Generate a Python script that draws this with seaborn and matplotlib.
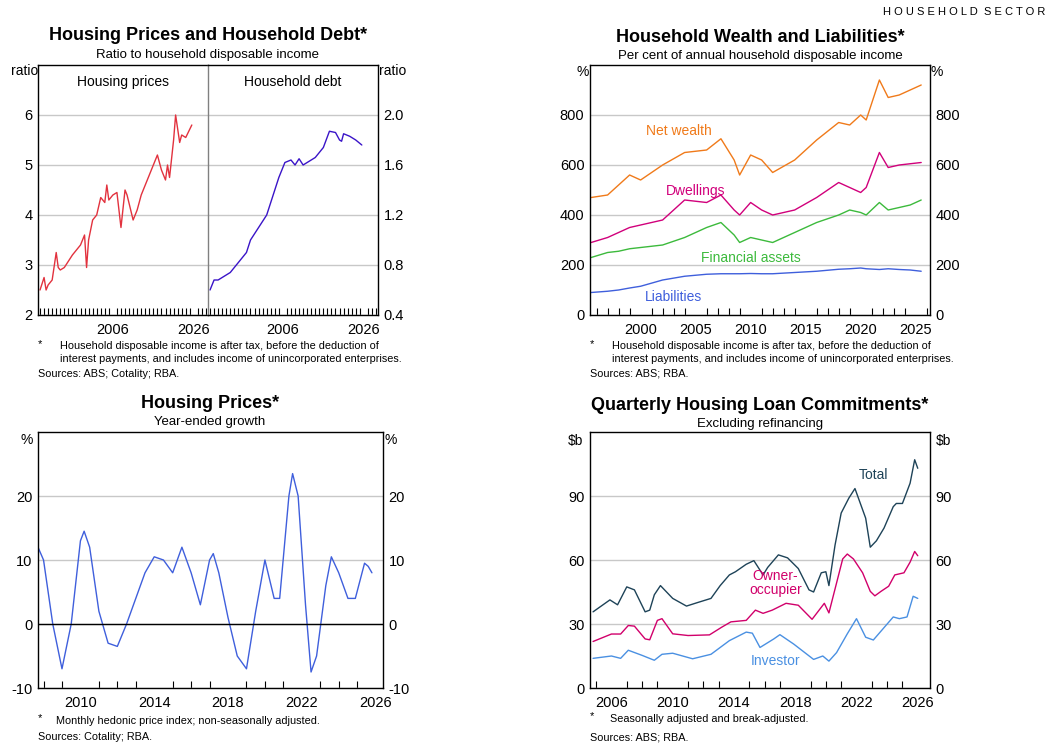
import matplotlib
matplotlib.use("Agg")
import matplotlib.pyplot as plt
import seaborn as sns
import numpy as np

sns.set_theme(style="white")
plt.rcParams['font.family'] = ['Arial', 'Liberation Sans', 'DejaVu Sans']
plt.rcParams['text.color'] = 'black'
plt.rcParams['xtick.color'] = 'black'
plt.rcParams['ytick.color'] = 'black'
plt.rcParams['axes.unicode_minus'] = False

# ---- data ----
hp_years = [1988, 1989, 1989.5, 1990, 1991, 1992, 1992.5, 1993, 1994, 1996, 1998, 1999, 1999.5, 2000, 2001, 2002, 2003, 2004, 2004.5, 2005, 2006, 2007, 2008, 2009, 2009.5, 2011, 2012, 2013, 2015, 2017, 2018, 2019, 2019.5, 2020, 2021, 2021.5, 2022.5, 2023, 2024, 2025.5]
hp_vals = [2.5, 2.75, 2.5, 2.6, 2.7, 3.25, 2.95, 2.9, 2.95, 3.2, 3.4, 3.6, 2.95, 3.5, 3.9, 4.0, 4.35, 4.25, 4.6, 4.3, 4.4, 4.45, 3.75, 4.5, 4.4, 3.9, 4.1, 4.4, 4.8, 5.2, 4.9, 4.7, 5.0, 4.75, 5.5, 6.0, 5.45, 5.6, 5.55, 5.8]
debt_years = [1988, 1989, 1990, 1992, 1993, 1995, 1997, 1998, 2000, 2001, 2002, 2004, 2005, 2006.5, 2008, 2009, 2010, 2011, 2012.5, 2014, 2016, 2017.5, 2019, 2020, 2020.5, 2021, 2022.5, 2024, 2025.5]
debt_vals = [0.6, 0.68, 0.68, 0.72, 0.74, 0.82, 0.9, 1.0, 1.1, 1.15, 1.2, 1.4, 1.5, 1.62, 1.64, 1.6, 1.65, 1.6, 1.63, 1.66, 1.74, 1.87, 1.86, 1.8, 1.79, 1.85, 1.83, 1.8, 1.76]

w_years = [1995.5, 1997, 1998, 1999, 2000, 2002, 2004, 2006, 2007.3, 2008.5, 2009, 2010, 2011, 2012, 2014, 2016, 2018, 2019, 2020, 2020.5, 2021.7, 2022.5, 2023.5, 2024.5, 2025.5]
net_wealth = [470, 480, 520, 560, 540, 600, 650, 660, 705, 620, 560, 640, 620, 570, 620, 700, 770, 760, 800, 780, 940, 870, 880, 900, 920]
dwellings = [290, 310, 330, 350, 360, 380, 460, 450, 480, 420, 400, 450, 420, 400, 420, 470, 530, 510, 490, 510, 650, 590, 600, 605, 610]
financial = [230, 250, 255, 265, 270, 280, 310, 350, 370, 320, 290, 310, 300, 290, 330, 370, 400, 420, 410, 400, 450, 420, 430, 440, 460]
liabilities = [90, 95, 100, 108, 115, 140, 155, 163, 165, 165, 165, 166, 165, 165, 170, 175, 183, 185, 188, 185, 182, 185, 182, 180, 175]

g_years = [2007.7, 2008, 2008.5, 2009, 2009.5, 2010, 2010.2, 2010.5, 2011, 2011.5, 2012, 2012.5, 2013, 2013.5, 2014, 2014.5, 2015, 2015.5, 2016, 2016.5, 2017, 2017.2, 2017.5, 2018, 2018.5, 2019, 2019.5, 2020, 2020.5, 2020.8, 2021.3, 2021.5, 2021.8, 2022.2, 2022.5, 2022.8, 2023.3, 2023.6, 2024, 2024.5, 2024.9, 2025.4, 2025.6, 2025.8]
g_vals = [12, 10, 0, -7, 0, 13, 14.5, 12, 2, -3, -3.5, 0, 4, 8, 10.5, 10, 8, 12, 8, 3, 10, 11, 8, 1, -5, -7, 2, 10, 4, 4, 20, 23.5, 20, 3, -7.5, -5, 6, 10.5, 8, 4, 4, 9.5, 9, 8]

t_years = [2004.8, 2005.9, 2006.4, 2007, 2007.5, 2008.2, 2008.5, 2008.8, 2009.2, 2010, 2010.9, 2011.6, 2012.5, 2013.1, 2013.7, 2014.1, 2014.8, 2015.3, 2015.9, 2016.2, 2016.9, 2017.5, 2018.2, 2018.9, 2019.2, 2019.7, 2020, 2020.2, 2020.6, 2021, 2021.5, 2021.9, 2022.6, 2022.9, 2023.3, 2023.8, 2024.4, 2024.6, 2025, 2025.5, 2025.8, 2026]
total = [35.7, 41.3, 39, 47.4, 46, 35.7, 36.5, 43.7, 48, 42, 38.4, 40, 42, 48, 53, 54.5, 58, 59.7, 53, 56.5, 62.4, 61, 56, 46, 45, 54, 54.5, 48, 67, 82, 89, 93.5, 79.6, 66, 69, 75, 85, 86.5, 86.5, 96, 107, 103]
o_years = [2004.8, 2006, 2006.6, 2007.1, 2007.5, 2008.2, 2008.5, 2009, 2009.3, 2010, 2011, 2012.4, 2013.2, 2013.8, 2014.8, 2015.4, 2015.9, 2016.5, 2017.4, 2018.2, 2019.1, 2019.9, 2020.2, 2021.1, 2021.4, 2021.8, 2022.4, 2022.9, 2023.2, 2023.6, 2024.1, 2024.5, 2025.1, 2025.5, 2025.8, 2026]
owner = [21.8, 25.3, 25.3, 29.3, 29, 23, 22.6, 31.7, 32.5, 25.4, 24.6, 24.9, 28.5, 31, 31.7, 36.5, 35, 36.5, 39.7, 38.8, 32.2, 39.7, 35.2, 60.5, 62.8, 60.5, 54, 45.3, 43.2, 45.3, 47.7, 53, 54, 59, 64, 62]
i_years = [2004.8, 2006, 2006.6, 2007.1, 2008, 2008.8, 2009.3, 2010, 2011.3, 2012.5, 2013.7, 2014.8, 2015.2, 2015.7, 2016.6, 2017, 2017.9, 2019.2, 2019.8, 2020.2, 2020.7, 2021.4, 2022, 2022.6, 2023.1, 2024.4, 2024.8, 2025.3, 2025.7, 2026]
investor = [13.9, 15, 13.9, 17.7, 15.3, 13, 15.8, 16.3, 13.7, 15.8, 22.2, 26.2, 25.7, 19, 23, 25, 20.6, 13.4, 15, 12.6, 16.6, 25.4, 32.5, 23.8, 22.5, 33.3, 32.5, 33.3, 43, 42]

W, H = 1056, 754
fig = plt.figure(figsize=(W/100, H/100), dpi=100)

def ax_at(x0, y0, x1, y1):
    return fig.add_axes([x0/W, 1-y1/H, (x1-x0)/W, (y1-y0)/H])

def style(ax, xlim, ylim, yticks, xmajor, minor_step=1, left=True, right=True, grid=True):
    ax.set_xlim(*xlim); ax.set_ylim(*ylim)
    ax.set_yticks(yticks)
    ax.set_xticks(xmajor)
    ax.set_xticks(np.arange(np.ceil(xlim[0]), xlim[1], minor_step), minor=True)
    ax.tick_params(axis='x', which='both', direction='in', length=5, width=0.8, color='black', bottom=True, labelsize=10.5, pad=6)
    ax.tick_params(axis='x', which='major', length=0)
    ax.tick_params(axis='y', length=0, labelsize=10.5, labelleft=left, labelright=right, pad=4)
    if grid:
        ax.yaxis.grid(True, color='#c8c8c8', lw=1)
    ax.set_axisbelow(True)
    for s in ax.spines.values():
        s.set_color('black'); s.set_linewidth(1)
    ax.set_xlabel(''); ax.set_ylabel('')

def line(ax, x, y, c, lw=1):
    sns.lineplot(x=x, y=y, ax=ax, color=c, lw=lw, legend=False)

FN = 7.8

# ---------- Top-left ----------
a1 = ax_at(38, 65, 208, 315)
a2 = ax_at(208, 65, 378, 315)
line(a1, hp_years, hp_vals, '#e2323e')
line(a2, debt_years, debt_vals, '#3a14c8')
style(a1, (1987.5, 2029.5), (2, 7), [2, 3, 4, 5, 6], [2006, 2026], left=True, right=False)
style(a2, (1987.5, 2029.5), (0.4, 2.4), [0.4, 0.8, 1.2, 1.6, 2.0], [2006, 2026], left=False, right=True)
a2.set_yticklabels(['0.4', '0.8', '1.2', '1.6', '2.0'])
a1.spines['right'].set_visible(False)
a2.spines['left'].set_color('#808080')
a1.text(0.5, 0.96, 'Housing prices', transform=a1.transAxes, ha='center', va='top', fontsize=10)
a2.text(0.5, 0.96, 'Household debt', transform=a2.transAxes, ha='center', va='top', fontsize=10)
fig.text(208/W, 1-35/H, 'Housing Prices and Household Debt*', ha='center', va='center', fontsize=13, fontweight='bold')
fig.text(208/W, 1-55/H, 'Ratio to household disposable income', ha='center', va='center', fontsize=9.5)
fig.text(25/W, 1-71/H, 'ratio', ha='center', va='center', fontsize=10)
fig.text(393/W, 1-71/H, 'ratio', ha='center', va='center', fontsize=10)
fig.text(38/W, 1-344/H, '*', fontsize=8, va='center')
fig.text(60/W, 1-341/H, 'Household disposable income is after tax, before the deduction of\ninterest payments, and includes income of unincorporated enterprises.', fontsize=FN, va='top', linespacing=1.35)
fig.text(38/W, 1-374/H, 'Sources: ABS; Cotality; RBA.', fontsize=FN, va='center')

# ---------- Top-right ----------
b = ax_at(590, 65, 930, 315)
line(b, w_years, net_wealth, '#f07a1a')
line(b, w_years, dwellings, '#d1007b')
line(b, w_years, financial, '#3cba3c')
line(b, w_years, liabilities, '#3f5fdc')
style(b, (1995.4, 2026.3), (0, 1000), [0, 200, 400, 600, 800], [2000, 2005, 2010, 2015, 2020, 2025])
b.set_yticklabels(['0', '200', '400', '600', '800'])
b.text(2003.5, 720, 'Net wealth', color='#f07a1a', ha='center', fontsize=10)
b.text(2005, 480, 'Dwellings', color='#d1007b', ha='center', fontsize=10)
b.text(2010, 210, 'Financial assets', color='#3cba3c', ha='center', fontsize=10)
b.text(2003, 55, 'Liabilities', color='#3f5fdc', ha='center', fontsize=10)
fig.text(760/W, 1-37/H, 'Household Wealth and Liabilities*', ha='center', va='center', fontsize=13, fontweight='bold')
fig.text(760/W, 1-56/H, 'Per cent of annual household disposable income', ha='center', va='center', fontsize=9.5)
fig.text(583/W, 1-72/H, '%', ha='center', va='center', fontsize=10)
fig.text(937/W, 1-72/H, '%', ha='center', va='center', fontsize=10)
fig.text(590/W, 1-344/H, '*', fontsize=8, va='center')
fig.text(612/W, 1-341/H, 'Household disposable income is after tax, before the deduction of\ninterest payments, and includes income of unincorporated enterprises.', fontsize=FN, va='top', linespacing=1.35)
fig.text(590/W, 1-374/H, 'Sources: ABS; RBA.', fontsize=FN, va='center')
fig.text(1045/W, 1-12/H, 'H O U S E H O L D  S E C T O R', ha='right', va='center', fontsize=8)

# ---------- Bottom-left ----------
c = ax_at(38, 432, 383, 688)
line(c, g_years, g_vals, '#3f5fdc')
style(c, (2007.7, 2026.4), (-10, 30), [-10, 0, 10, 20], [2010, 2014, 2018, 2022, 2026])
c.axhline(0, color='black', lw=1)
fig.text(210/W, 1-404/H, 'Housing Prices*', ha='center', va='center', fontsize=13, fontweight='bold')
fig.text(210/W, 1-422/H, 'Year-ended growth', ha='center', va='center', fontsize=9.5)
fig.text(27/W, 1-440/H, '%', ha='center', va='center', fontsize=10)
fig.text(391/W, 1-440/H, '%', ha='center', va='center', fontsize=10)
fig.text(38/W, 1-718/H, '*', fontsize=8, va='center')
fig.text(56/W, 1-721/H, 'Monthly hedonic price index; non-seasonally adjusted.', fontsize=FN, va='center')
fig.text(38/W, 1-737/H, 'Sources: Cotality; RBA.', fontsize=FN, va='center')

# ---------- Bottom-right ----------
d = ax_at(590, 432, 930, 688)
line(d, t_years, total, '#1e4358')
line(d, o_years, owner, '#d1006b')
line(d, i_years, investor, '#4a90e2')
style(d, (2004.6, 2026.8), (0, 120), [0, 30, 60, 90], [2006, 2010, 2014, 2018, 2022, 2026])
d.text(2023.1, 98, 'Total', color='#1e4358', ha='center', fontsize=10)
d.text(2016.7, 44, 'Owner-\noccupier', color='#d1006b', ha='center', fontsize=10, linespacing=1.0)
d.text(2016.7, 11, 'Investor', color='#4a90e2', ha='center', fontsize=10)
fig.text(760/W, 1-406/H, 'Quarterly Housing Loan Commitments*', ha='center', va='center', fontsize=13, fontweight='bold')
fig.text(760/W, 1-424/H, 'Excluding refinancing', ha='center', va='center', fontsize=9.5)
fig.text(576/W, 1-441/H, '$b', ha='center', va='center', fontsize=10)
fig.text(944/W, 1-441/H, '$b', ha='center', va='center', fontsize=10)
fig.text(590/W, 1-716/H, '*', fontsize=8, va='center')
fig.text(610/W, 1-719/H, 'Seasonally adjusted and break-adjusted.', fontsize=FN, va='center')
fig.text(590/W, 1-737/H, 'Sources: ABS; RBA.', fontsize=FN, va='center')

fig.savefig('out.png', dpi=100)
